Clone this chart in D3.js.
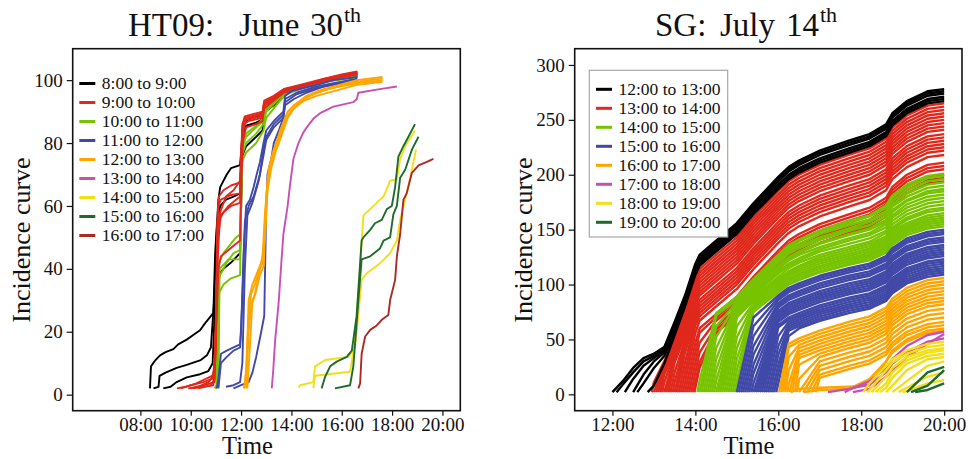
<!DOCTYPE html>
<html>
<head>
<meta charset="utf-8">
<script src="https://cdn.jsdelivr.net/npm/d3@7"></script>
<style>
  body { margin: 0; background: #fff; }
  text { font-family: "Liberation Serif", "DejaVu Serif", serif; fill: #111; }
</style>
</head>
<body>
<svg id="chart" width="968" height="459"></svg>
<script>
// ---------- colours shared by both panels ----------
const hourColors = ["#000000", "#e0281c", "#78c300", "#4149a8", "#ffa500", "#c850b4", "#f2df15", "#1f6b2a", "#ad2a24"];

// ---------- HT09: June 30th  (time in hours, incidence) ----------
const htLabels = ["8:00 to 9:00", "9:00 to 10:00", "10:00 to 11:00", "11:00 to 12:00", "12:00 to 13:00",
                  "13:00 to 14:00", "14:00 to 15:00", "15:00 to 16:00", "16:00 to 17:00"];
const htTicks = [8, 10, 12, 14, 16, 18, 20];

const htBlack = [
  [[8.38,2],[8.42,9],[8.6,11],[8.78,12.5],[9.0,13.5],[9.31,14.5],[9.5,16],[9.84,17.5],[10.1,19],[10.37,20.5],[10.55,22.5],[10.75,24.5],[10.9,26],[10.97,45],[11.1,62],[11.17,66],[11.43,70],[11.6,72],[11.96,73],[12.03,80],[12.12,86],[12.3,87.5],[12.85,89],[12.92,92],[13.3,94],[13.7,96.5],[14.1,97.8],[15.0,99.5],[16.0,101.2],[16.62,102]],
  [[8.52,2],[8.72,2.5],[8.76,6],[9.0,7],[9.44,8.5],[9.84,9.5],[10.1,10.2],[10.4,11],[10.64,12.5],[10.8,15],[10.93,30],[11.05,55],[11.17,60],[11.4,62],[11.7,63],[11.96,64],[12.05,81],[12.2,85.5],[12.6,86.5],[12.85,87.5],[12.92,91],[13.3,93],[13.7,96],[14.1,97.5],[15.0,99.2],[16.0,100.8],[16.62,101.5]],
  [[8.91,2],[9.2,2.5],[9.44,4],[9.84,5.5],[10.37,6.5],[10.7,7.5],[10.87,10],[10.97,30],[11.1,38],[11.3,40],[11.6,42],[11.96,45],[12.05,76],[12.2,79],[12.6,82],[12.85,84],[12.95,90],[13.3,92],[13.7,95.5],[14.1,97],[15.0,99],[16.0,100.5],[16.62,101.2]]
];
const htRed = [
  [[9.45,2],[9.8,2.5],[10.2,3.5],[10.6,5],[10.85,6],[10.95,8],[11.05,40],[11.17,58],[11.4,63],[11.7,65],[11.96,68],[12.05,84],[12.15,88],[12.85,89.5],[12.92,92.5],[13.3,94],[13.7,97],[14.5,98.5],[15.3,100.3],[16.0,101.5],[16.62,102.5]],
  [[9.6,2],[10.0,3],[10.5,4],[10.85,5],[10.97,10],[11.08,50],[11.2,57],[11.5,60],[11.8,62],[11.96,63],[12.05,83],[12.2,87.5],[12.85,88.5],[12.92,93],[13.3,94.5],[13.7,96.5],[14.5,98.2],[15.3,100],[16.0,101.3],[16.62,102.2]],
  [[9.9,2],[10.3,2.5],[10.7,4],[10.9,6],[11.0,20],[11.1,40],[11.2,44],[11.5,46],[11.8,48],[11.96,49],[12.02,70],[12.1,86],[12.3,87],[12.85,88],[12.92,91],[13.3,93.5],[13.7,96],[14.5,98],[15.3,99.8],[16.0,101],[16.62,101.8]],
  [[10.1,2],[10.5,2.5],[10.9,3],[11.0,15],[11.05,45],[11.1,55],[11.3,58],[11.6,60],[11.96,61],[12.05,80],[12.2,85],[12.6,86],[12.85,87],[12.92,92],[13.3,93.8],[13.7,96.3],[14.5,98],[15.3,99.8],[16.0,101],[16.62,102]],
  [[10.0,2],[10.5,3],[10.95,4],[11.0,25],[11.1,60],[11.2,62],[11.6,63.5],[11.96,64],[12.05,85],[12.2,88],[12.85,89],[12.92,93],[13.3,94.8],[13.7,97],[14.5,98.6],[15.3,100.4],[16.0,101.6],[16.62,102.6]],
  [[10.3,2],[10.8,3],[10.95,5],[11.0,20],[11.05,55],[11.12,63],[11.3,65],[11.6,66.5],[11.96,67.5],[12.05,86],[12.15,88.5],[12.85,90],[12.92,93.5],[13.3,95],[13.7,97.2],[14.5,98.8],[15.3,100.5],[16.0,101.8],[16.62,102.8]]
];
const htGreen = [
  [[10.95,2],[11.02,3],[11.08,35],[11.17,38],[11.43,42],[11.7,45],[11.96,46],[12.03,76],[12.2,80],[12.6,83],[12.89,86],[13.0,90],[13.5,94],[13.8,96],[14.5,98],[15.5,100],[16.62,101.5]],
  [[10.98,2],[11.05,3],[11.1,32],[11.3,35],[11.6,37],[11.96,38],[12.03,74],[12.2,77],[12.6,80],[12.89,84],[13.0,88],[13.5,93],[13.8,95.5],[14.5,97.6],[15.5,99.6],[16.62,101]],
  [[11.0,2],[11.08,4],[11.12,42],[11.3,45],[11.6,48],[11.8,50],[11.96,51],[12.03,78],[12.2,82],[12.6,85],[12.89,87],[13.0,91],[13.5,94.5],[13.8,96.3],[14.5,98.2],[15.5,100.2],[16.62,101.7]],
  [[11.0,2],[11.1,3],[11.15,40],[11.5,43],[11.96,43],[12.05,80],[12.2,83],[12.6,85.5],[12.89,88],[13.0,91.5],[13.5,95],[13.8,96.5],[14.5,98.4],[15.5,100.4],[16.62,101.8]]
];
const htBlue = [
  [[11.03,2],[11.1,5],[11.2,13],[11.43,14],[11.7,15],[11.96,16],[12.0,20],[12.1,45],[12.2,60],[12.35,62],[12.5,66],[12.62,70],[12.75,74],[12.89,80],[13.0,84],[13.3,87],[13.68,90],[13.75,95],[14.0,96.5],[14.5,97.5],[15.0,98.5],[15.67,100],[16.62,101]],
  [[11.1,2],[11.2,10],[11.43,12],[11.7,14],[11.96,15],[12.05,30],[12.15,55],[12.3,60],[12.5,63],[12.75,70],[12.89,78],[13.0,82],[13.3,86],[13.68,89],[13.75,94],[14.2,96],[15.0,98],[16.62,100.5]],
  [[11.4,2.5],[11.7,3],[11.96,4],[12.05,10],[12.15,40],[12.25,57],[12.45,61],[12.7,68],[12.89,76],[13.0,81],[13.3,85],[13.68,88],[13.75,93],[14.2,95.5],[15.0,97.5],[16.62,100]],
  [[11.7,2],[12.0,3],[12.3,4],[12.45,7],[12.6,12],[12.8,20],[12.92,25],[13.0,60],[13.05,70],[13.2,75],[13.3,80],[13.5,84],[13.68,88],[13.75,92],[14.1,94],[14.6,96],[15.3,98],[16.62,100]]
];
const htOrange = [
  [[12.12,2],[12.2,8],[12.3,25],[12.4,32],[12.55,35],[12.73,40],[12.87,42],[12.95,55],[13.05,68],[13.2,75],[13.4,80],[13.55,84],[13.7,87],[13.85,90],[14.1,92],[14.5,94],[15.0,96],[15.6,97.5],[16.6,99],[17.62,100]],
  [[12.2,2],[12.3,20],[12.4,28],[12.6,33],[12.75,38],[12.9,41],[13.0,60],[13.1,70],[13.3,76],[13.5,80],[13.68,84],[13.85,88],[14.1,91],[14.5,93.5],[15.0,95],[16.6,98.5],[17.62,99.5]],
  [[12.25,2],[12.35,15],[12.45,30],[12.55,32],[12.7,38],[12.85,44],[12.95,50],[13.05,65],[13.2,72],[13.4,78],[13.6,83],[13.8,88],[14.1,92],[14.6,95],[15.2,97],[16.6,100],[17.62,101]],
  [[12.1,2],[12.2,4],[12.3,30],[12.45,35],[12.7,40],[12.85,43],[12.95,58],[13.1,72],[13.3,78],[13.5,82],[13.7,86],[13.9,89],[14.2,92],[14.7,95],[15.4,97],[16.6,99.5],[17.62,100.5]]
];
const htPink = [
  [[13.22,2],[13.28,8],[13.35,17],[13.5,30],[13.6,42],[13.68,51],[13.85,60],[13.95,67],[14.08,75],[14.28,80],[14.45,83],[14.61,85],[14.9,88],[15.14,89.5],[15.67,91.6],[16.46,93],[16.6,94],[16.66,96],[17.39,97],[18.19,98]]
];
const htYellow = [
  [[14.28,2.3],[14.34,3],[14.87,4],[14.94,9],[15.34,11],[16.26,12],[16.53,15],[16.73,41],[16.86,57],[17.13,59],[17.52,62],[17.66,63],[17.92,68],[18.19,68.5],[18.32,75],[18.52,79],[18.91,84]],
  [[14.87,2],[14.94,6],[16.33,7.3],[16.59,19.5],[16.79,36.5],[16.99,38.6],[17.39,41],[17.59,42.3],[17.92,45],[18.19,49],[18.32,55.6],[18.52,62],[18.72,69],[18.95,78]]
];
const htDarkGreen = [
  [[15.2,2],[15.34,5.7],[15.54,9],[15.8,10.5],[16.2,12],[16.4,14],[16.59,25],[16.79,49],[16.86,50],[17.13,52.4],[17.32,54.5],[17.59,55.6],[17.79,59],[17.99,60],[18.12,66],[18.25,75.7],[18.45,79],[18.65,82],[18.91,86]],
  [[15.73,2],[16.33,3],[16.46,9],[16.66,30],[16.79,43],[17.13,44],[17.52,46.5],[17.66,49],[17.92,50],[18.05,57.3],[18.19,60],[18.32,69],[18.52,71.5],[18.79,78],[19.05,82]]
];
const htBrown = [
  [[16.66,2],[16.73,3.6],[16.79,13],[16.93,18.5],[17.13,20.6],[17.39,22],[17.59,23.8],[17.85,25.3],[17.92,30],[18.12,36.5],[18.19,44],[18.32,51],[18.45,62],[18.58,64],[18.78,70.4],[19.05,72.9],[19.38,74],[19.64,75]]
];

// ---------- SG: July 14th ----------
// each line: [start time, values at the last values.length entries of sgTimes]
const sgLabels = ["12:00 to 13:00", "13:00 to 14:00", "14:00 to 15:00", "15:00 to 16:00",
                  "16:00 to 17:00", "17:00 to 18:00", "18:00 to 19:00", "19:00 to 20:00"];
const sgTicks = [12, 14, 16, 18, 20];
const sgTimes = [12.25, 12.5, 12.75, 13.0, 13.25, 13.5, 13.75, 14.0, 14.1, 14.5, 15.0, 15.4, 16.0, 16.25, 16.5, 17.0, 17.7, 18.2, 18.6, 18.75, 19.1, 19.6, 20.0];

const sgBlack = [
  [12.0, [12,24,33,37,43,66,90,119,127,140,156,174,198,207,213,222,231,237,246,256,267,276,278]],
  [12.1, [9,20,30,35,42,63,88,117,125,138,154,172,196,205,211,220,229,235,244,254,265,274,276]],
  [12.3, [14,26,33,40,62,86,115,123,136,152,170,194,203,209,218,227,233,242,252,263,272,274]],
  [12.5, [18,30,38,60,84,113,121,134,150,168,191,200,206,215,224,230,239,249,260,269,271]],
  [12.6, [10,24,35,57,82,111,119,132,148,166,189,198,204,213,222,228,237,247,258,267,269]],
  [12.85, [8,28,54,80,109,117,130,146,164,187,196,202,211,220,226,235,245,256,265,267]]
];
const sgRed = [
  [12.95, [11,30,53,77,106,114,127,143,161,185,194,200,209,218,224,233,243,254,263,265]],
  [13.0, [27,50,74,103,111,124,140,158,182,191,197,206,215,221,230,240,251,260,262]],
  [13.05, [24,47,71,100,108,121,137,155,179,188,194,203,212,218,227,237,248,257,259]],
  [13.1, [21,44,68,97,105,118,134,152,176,185,191,200,209,215,224,234,245,254,256]],
  [13.15, [18,41,65,94,102,115,131,149,173,182,188,197,206,212,221,231,242,251,253]],
  [13.2, [11,38,62,91,99,112,128,146,170,179,185,194,203,209,218,228,239,248,250]],
  [13.25, [35,59,88,96,109,125,143,167,176,182,191,200,206,215,225,236,245,247]],
  [13.3, [32,56,85,93,106,122,140,164,173,179,188,197,203,212,222,233,242,244]],
  [13.35, [29,53,82,90,103,119,137,161,170,176,185,194,200,209,219,230,239,241]],
  [13.4, [20,49,78,86,99,115,133,157,166,172,181,190,196,205,215,226,235,237]],
  [13.45, [11,46,75,83,96,112,130,154,163,169,178,187,193,202,212,223,232,234]],
  [13.5, [43,72,80,93,109,127,151,160,166,175,184,190,199,209,220,229,231]],
  [13.55, [38,69,77,90,106,124,148,157,163,172,181,187,196,206,217,226,228]],
  [13.6, [29,66,74,87,103,121,145,154,160,169,178,184,193,203,214,223,225]],
  [13.65, [20,63,71,84,100,118,142,151,157,166,175,181,190,200,211,220,222]],
  [13.7, [11,56,67,80,96,114,138,147,153,162,171,177,186,196,207,216,218]],
  [13.75, [47,60,73,89,107,131,140,146,155,164,170,179,189,200,209,211]],
  [13.8, [38,56,70,86,104,128,137,143,152,161,167,176,186,197,206,208]],
  [13.85, [29,47,67,83,101,125,134,140,149,158,164,173,183,194,203,205]],
  [13.9, [20,38,62,78,96,120,129,135,144,153,159,168,178,189,198,200]],
  [13.95, [11,29,59,75,93,117,126,132,141,150,156,165,175,186,195,197]],
  [13.98, [6,24,56,72,90,114,123,129,138,147,153,162,172,183,192,194]]
];
const sgGreen = [
  [14.05, [12,74,89,105,127,136,141,149,158,163,172,181,191,199,201]],
  [14.1, [73,88,104,126,134,140,148,156,162,170,179,189,197,199]],
  [14.15, [72,86,102,124,132,137,146,154,159,167,176,186,194,196]],
  [14.2, [62,84,100,122,130,135,143,151,157,165,173,183,191,193]],
  [14.25, [52,83,98,120,128,133,141,149,154,162,171,180,188,190]],
  [14.3, [42,81,97,117,125,130,138,146,151,159,168,177,185,187]],
  [14.35, [32,80,96,116,124,129,137,145,150,157,166,176,183,185]],
  [14.4, [22,78,94,114,122,127,134,142,147,155,163,173,180,182]],
  [14.45, [12,77,92,112,119,124,132,140,145,152,161,170,177,179]],
  [14.5, [75,90,110,117,122,130,137,142,149,158,167,174,176]],
  [14.55, [73,88,107,115,120,127,134,139,147,155,164,171,173]],
  [14.6, [71,86,105,112,117,125,132,137,144,152,161,168,170]],
  [14.65, [70,85,104,111,116,123,130,135,142,150,159,166,168]],
  [14.7, [62,83,102,109,114,121,128,133,140,148,156,163,165]],
  [14.75, [52,82,101,108,112,119,126,131,138,146,154,161,163]],
  [14.8, [42,80,99,106,110,117,124,129,136,144,152,159,161]],
  [14.85, [32,79,97,104,109,116,123,127,134,142,151,157,159]],
  [14.9, [22,78,96,103,108,114,121,126,133,140,149,155,157]],
  [14.95, [12,76,94,101,106,112,119,124,131,138,147,153,155]],
  [14.98, [6,75,93,100,104,111,118,122,129,136,145,151,153]]
];
const sgBlue = [
  [15.0, [70,90,97,101,108,115,119,126,133,142,148,150]],
  [15.05, [62,88,95,99,106,113,117,124,131,140,146,148]],
  [15.1, [53,86,93,97,104,111,115,122,129,138,144,146]],
  [15.15, [44,83,90,94,101,108,112,119,126,135,141,143]],
  [15.2, [36,81,88,92,99,106,110,117,124,133,139,141]],
  [15.25, [27,79,86,90,97,104,108,115,122,131,137,139]],
  [15.3, [19,76,83,87,94,101,105,112,119,128,134,136]],
  [15.35, [10,74,81,85,92,99,103,110,117,126,132,134]],
  [15.4, [72,79,83,90,97,101,108,115,124,130,132]],
  [15.45, [70,77,81,88,95,99,106,113,122,128,130]],
  [15.5, [68,75,79,86,93,97,104,111,120,126,128]],
  [15.55, [66,73,77,84,91,95,102,109,118,124,126]],
  [15.6, [63,70,74,81,88,92,99,106,115,121,123]],
  [15.65, [61,68,72,79,86,90,97,104,113,119,121]],
  [15.7, [53,66,70,77,84,88,95,102,111,117,119]],
  [15.75, [44,64,68,75,82,86,93,100,109,115,117]],
  [15.8, [36,62,66,73,80,84,91,98,107,113,115]],
  [15.85, [27,60,64,71,78,82,89,96,105,111,113]],
  [15.9, [19,58,62,69,76,80,87,94,103,109,111]],
  [15.95, [10,53,60,67,74,78,85,92,101,107,109]]
];
const sgOrange = [
  [16.02, [46,51,58,66,71,79,87,97,104,106]],
  [16.07, [43,48,55,63,68,76,84,94,101,103]],
  [16.12, [34,45,52,60,65,73,81,91,98,100]],
  [16.17, [22,42,49,57,62,70,78,88,95,97]],
  [16.22, [9,39,46,54,59,67,75,85,92,94]],
  [16.27, [36,43,51,56,64,72,82,89,91]],
  [16.33, [33,40,48,53,61,69,79,86,88]],
  [16.4, [27,37,45,50,58,66,76,83,85]],
  [16.45, [14,34,42,47,55,63,73,80,82]],
  [16.5, [30,38,43,51,59,69,76,78]],
  [16.6, [26,34,39,47,55,65,72,74]],
  [16.7, [22,30,35,43,51,61,68,70]],
  [16.8, [18,26,31,39,47,57,64,66]],
  [16.9, [15,23,28,36,44,54,61,63]],
  [16.3, [5,6,7,8,30,40,50,58,60]],
  [16.6, [4,5,14,30,38,48,56,58]]
];
const sgPink = [
  [17.2, [5,9,20,28,38,48,51]],
  [17.6, [4,12,24,32,44,54,57]],
  [17.8, [5,16,22,34,46,55]]
];
const sgYellow = [
  [18.05, [10,26,32,40,46,48]],
  [18.15, [4,22,29,37,43,45]],
  [18.25, [16,24,34,40,42]],
  [18.35, [10,20,31,38,40]],
  [18.45, [6,15,28,35,37]],
  [18.6, [8,22,32,34]],
  [18.75, [12,26,30]],
  [18.9, [6,16,20]],
  [19.0, [3,10,13]]
];
const sgDarkGreen = [
  [19.1, [20,25]],
  [19.2, [8,22]],
  [19.3, [4,10]]
];

// ---------- drawing ----------
const svg = d3.select("#chart");
const hourFormat = t => d3.format("02d")(t) + ":00";

function sgPoints([start, vals]) {
  const ts = sgTimes.slice(sgTimes.length - vals.length);
  return [[start, 2]].concat(ts.map((t, i) => [t, vals[i]]));
}

function drawPanel(cfg) {
  const x = d3.scaleLinear().domain(cfg.xDomain).range([cfg.left, cfg.right]);
  const y = d3.scaleLinear().domain(cfg.yDomain).range([cfg.bottom, cfg.top]);
  const g = svg.append("g");

  g.append("clipPath").attr("id", cfg.id + "-clip")
    .append("rect")
    .attr("x", cfg.left).attr("y", cfg.top)
    .attr("width", cfg.right - cfg.left).attr("height", cfg.bottom - cfg.top);

  const line = d3.line().x(d => x(d[0])).y(d => y(d[1]));
  const plot = g.append("g").attr("clip-path", `url(#${cfg.id}-clip)`);

  cfg.order.forEach(i => {
    plot.selectAll(null)
      .data(cfg.groups[i].map(cfg.toPoints))
      .join("path")
      .attr("d", line)
      .attr("fill", "none")
      .attr("stroke", hourColors[i])
      .attr("stroke-width", cfg.lineWidth)
      .attr("stroke-linejoin", "round");
  });

  // axes
  const xAxis = g.append("g")
    .attr("transform", `translate(0,${cfg.bottom})`)
    .call(d3.axisBottom(x).tickValues(cfg.xTicks).tickFormat(hourFormat)
      .tickSize(5).tickSizeOuter(0).tickPadding(2));
  const yAxis = g.append("g")
    .attr("transform", `translate(${cfg.left},0)`)
    .call(d3.axisLeft(y).tickValues(cfg.yTicks).tickSize(6).tickSizeOuter(0).tickPadding(4));
  [xAxis, yAxis].forEach(a => {
    a.select(".domain").remove();
    a.selectAll(".tick line").attr("stroke", "#111").attr("stroke-width", 1.2);
    a.selectAll(".tick text").attr("font-size", 19).attr("font-family", "Liberation Serif").attr("fill", "#222");
  });

  g.append("rect")
    .attr("x", cfg.left).attr("y", cfg.top)
    .attr("width", cfg.right - cfg.left).attr("height", cfg.bottom - cfg.top)
    .attr("fill", "none").attr("stroke", "#111").attr("stroke-width", 1.6);

  // axis labels
  g.append("text")
    .attr("x", cfg.xLabelX).attr("y", 454)
    .attr("text-anchor", "middle").attr("font-size", 24.5)
    .text("Time");
  g.append("text")
    .attr("transform", `translate(${cfg.yLabelX},240) rotate(-90)`)
    .attr("text-anchor", "middle").attr("font-size", 26)
    .text("Incidence curve");

  // title, placed word by word
  const title = g.append("text").attr("y", 36).attr("font-size", 33);
  cfg.title.forEach(([txt, xx, sup]) => {
    title.append("tspan")
      .attr("x", xx)
      .attr("y", sup ? 22 : 36)
      .attr("font-size", sup ? 22 : 33)
      .text(txt);
  });

  // legend
  const lg = g.append("g");
  if (cfg.legendBox) {
    lg.append("rect")
      .attr("x", cfg.legendBox[0]).attr("y", cfg.legendBox[1])
      .attr("width", cfg.legendBox[2]).attr("height", cfg.legendBox[3])
      .attr("fill", "#fff").attr("stroke", "#a8a8a8").attr("stroke-width", 1.2);
  }
  cfg.labels.forEach((lab, i) => {
    const yy = cfg.legendY + i * 19;
    lg.append("line")
      .attr("x1", cfg.legendX).attr("x2", cfg.legendX + 16)
      .attr("y1", yy).attr("y2", yy)
      .attr("stroke", hourColors[i]).attr("stroke-width", 3);
    lg.append("text")
      .attr("x", cfg.legendX + 22.5).attr("y", yy + 5.8)
      .attr("font-size", 17.5)
      .text(lab);
  });
}

drawPanel({
  id: "ht",
  left: 72.7, right: 460.3, top: 48.7, bottom: 410.7,
  xDomain: [5.31, 20.71], yDomain: [-5.1, 110],
  xTicks: htTicks, yTicks: [0, 20, 40, 60, 80, 100],
  groups: [htBlack, htRed, htGreen, htBlue, htOrange, htPink, htYellow, htDarkGreen, htBrown],
  order: [0, 2, 1, 3, 4, 5, 6, 7, 8],
  toPoints: d => d,
  lineWidth: 1.9,
  labels: htLabels,
  legendX: 79.3, legendY: 83.5, legendBox: null,
  xLabelX: 247.5, yLabelX: 30,
  title: [["HT09:", 128], ["June", 239], ["30", 310], ["th", 344, true]]
});

drawPanel({
  id: "sg",
  left: 574.7, right: 962, top: 48.7, bottom: 410.7,
  xDomain: [11.09, 20.43], yDomain: [-14.9, 314.8],
  xTicks: sgTicks, yTicks: [0, 50, 100, 150, 200, 250, 300],
  groups: [sgBlack, sgRed, sgGreen, sgBlue, sgOrange, sgPink, sgYellow, sgDarkGreen],
  order: [1, 0, 2, 3, 4, 5, 6, 7],
  toPoints: sgPoints,
  lineWidth: 2.4,
  labels: sgLabels,
  legendX: 596, legendY: 89.3, legendBox: [589.3, 70.3, 138.4, 166.7],
  xLabelX: 749, yLabelX: 532,
  title: [["SG:", 655], ["July", 720], ["14", 786], ["th", 820, true]]
});
</script>
</body>
</html>
